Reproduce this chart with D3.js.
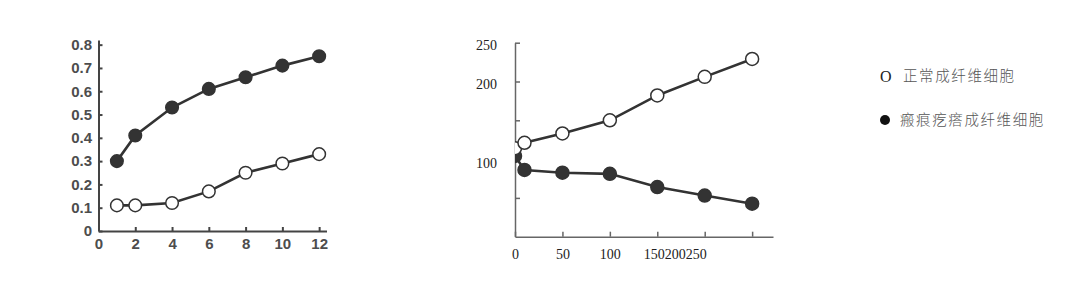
<!DOCTYPE html>
<html lang="zh">
	<head>
		<meta charset="utf-8">
		<title>成纤维细胞</title>
		<script type="text/javascript" src="https://cdn.jsdelivr.net/npm/d3@7/dist/d3.min.js"></script>
		<style type="text/css">
			body {
				margin: 0;
				background: #fff;
			}
			.left .tick text {
				font-family: "Liberation Sans", Arial, sans-serif;
				font-weight: bold;
				font-size: 15px;
				fill: #4d4d4d;
			}
			.right .tick text {
				font-family: "Liberation Serif", "Times New Roman", serif;
				font-size: 14px;
				fill: #222;
			}
		</style>
	</head>
	<body>
		<script type="text/javascript">

			//Left panel data
			var leftX = [1, 2, 4, 6, 8, 10, 12];
			var leftNormal = [0.11, 0.11, 0.12, 0.17, 0.25, 0.29, 0.33];
			var leftScar = [0.30, 0.41, 0.53, 0.61, 0.66, 0.71, 0.75];
			var leftXTicks = [0, 2, 4, 6, 8, 10, 12];
			var leftYTicks = [0, 0.1, 0.2, 0.3, 0.4, 0.5, 0.6, 0.7, 0.8];

			//Right panel data
			var rightX = [0, 10, 50, 100, 150, 200, 250];
			var rightNormal = [114, 121, 133, 150, 182, 206, 229];
			var rightScar = [104, 86, 82.5, 81, 64, 53, 42.5];
			var rightXTicks = [0, 50, 100, 150, 200, 250];
			var rightYTicks = [50, 100, 150, 200, 250];
			var rightYLabels = [100, 200, 250];

			//Legend entries
			var legendNames = ["正常成纤维细胞", "瘢痕疙瘩成纤维细胞"];

			var w = 1080;
			var h = 284;

			var svg = d3.select("body")
						.append("svg")
						.attr("width", w)
						.attr("height", h);

			//---------- left panel ----------
			var lx = d3.scaleLinear().domain([0, 12.4]).range([98.5, 326.5]);
			var ly = d3.scaleLinear().domain([0, 0.82]).range([231, 40]);

			var left = svg.append("g").attr("class", "left");

			left.append("g")
				.attr("transform", "translate(0," + ly(0) + ")")
				.call(d3.axisBottom(lx).tickValues(leftXTicks).tickSizeInner(-4).tickSizeOuter(0).tickPadding(8))
				.selectAll(".tick text")
				.attr("dy", "0.68em");

			left.append("g")
				.attr("transform", "translate(" + lx(0) + ",0)")
				.call(d3.axisLeft(ly).tickValues(leftYTicks).tickSizeInner(-4).tickSizeOuter(0).tickPadding(6.5)
					.tickFormat(function(d) { return d === 0 ? "0" : d3.format(".1f")(d); }));

			left.selectAll(".domain, .tick line")
				.attr("stroke", "#444")
				.attr("stroke-width", 2);

			var leftLine = d3.line()
				.x(function(d) { return lx(d[0]); })
				.y(function(d) { return ly(d[1]); });

			[[leftScar, "#333"], [leftNormal, "#fff"]].forEach(function(s) {
				var pts = leftX.map(function(x, i) { return [x, s[0][i]]; });
				left.append("path")
					.datum(pts)
					.attr("fill", "none")
					.attr("stroke", "#333")
					.attr("stroke-width", 2.6)
					.attr("d", leftLine);
				left.selectAll(null)
					.data(pts)
					.enter()
					.append("circle")
					.attr("cx", function(d) { return lx(d[0]); })
					.attr("cy", function(d) { return ly(d[1]); })
					.attr("r", 6.3)
					.attr("fill", s[1])
					.attr("stroke", "#333")
					.attr("stroke-width", 1.5);
			});

			//---------- right panel ----------
			var rx = d3.scaleLinear().domain([0, 272]).range([515, 773]);
			var ry = d3.scaleLinear().domain([0, 250]).range([236.7, 42.7]);

			var right = svg.append("g").attr("class", "right");

			var rxAxis = right.append("g")
				.attr("transform", "translate(0," + ry(0) + ")")
				.call(d3.axisBottom(rx).tickValues(rightXTicks).tickSizeInner(-5).tickSizeOuter(0).tickPadding(12)
					.tickFormat(function(d) {
						if (d === 150) return "150200250";
						if (d > 150) return "";
						return d;
					}));

			//The crowded labels run on from the 150 tick
			rxAxis.selectAll(".tick text")
				.filter(function(d) { return d === 150; })
				.attr("text-anchor", "start")
				.attr("x", -14);

			right.append("g")
				.attr("transform", "translate(" + rx(0) + ",0)")
				.call(d3.axisLeft(ry).tickValues(rightYTicks).tickSizeInner(-5).tickSizeOuter(0).tickPadding(18)
					.tickFormat(function(d) { return rightYLabels.indexOf(d) >= 0 ? d : ""; }))
				.selectAll(".tick text")
				.attr("dy", function(d) { return d === 100 ? "0.62em" : "0.5em"; });

			right.selectAll(".domain, .tick line")
				.attr("stroke", "#666")
				.attr("stroke-width", 1.5);

			//Clip the marks at the y-axis
			svg.append("clipPath")
				.attr("id", "clipR")
				.append("rect")
				.attr("x", rx(0))
				.attr("y", 0)
				.attr("width", w - rx(0))
				.attr("height", ry(0));

			var rightMarks = right.append("g").attr("clip-path", "url(#clipR)");

			var rightLine = d3.line()
				.x(function(d) { return rx(d[0]); })
				.y(function(d) { return ry(d[1]); });

			[[rightScar, "#333"], [rightNormal, "#fff"]].forEach(function(s) {
				var pts = rightX.map(function(x, i) { return [x, s[0][i]]; });
				rightMarks.append("path")
					.datum(pts)
					.attr("fill", "none")
					.attr("stroke", "#333")
					.attr("stroke-width", 2.6)
					.attr("d", rightLine);
				rightMarks.selectAll(null)
					.data(pts)
					.enter()
					.append("circle")
					.attr("cx", function(d) { return rx(d[0]); })
					.attr("cy", function(d) { return ry(d[1]); })
					.attr("r", 6.5)
					.attr("fill", s[1])
					.attr("stroke", "#333")
					.attr("stroke-width", 1.5);
			});

			//---------- legend ----------
			var legend = svg.append("g");

			legend.append("text")
				.attr("x", 880)
				.attr("y", 76)
				.attr("dy", "0.35em")
				.attr("font-family", "Liberation Serif, serif")
				.attr("font-size", 16)
				.attr("fill", "#222")
				.text("O");

			legend.append("circle")
				.attr("cx", 885)
				.attr("cy", 120)
				.attr("r", 5)
				.attr("fill", "#111");

			legend.selectAll(null)
				.data(legendNames)
				.enter()
				.append("text")
				.attr("x", function(d, i) { return i === 0 ? 903 : 900; })
				.attr("y", function(d, i) { return i === 0 ? 76 : 120; })
				.attr("dy", "0.35em")
				.attr("font-family", "Noto Sans CJK SC, sans-serif")
				.attr("font-weight", 300)
				.attr("font-size", 14.5)
				.attr("letter-spacing", "1.6px")
				.attr("fill", "#555")
				.text(function(d) { return d; });

		</script>
	</body>
</html>
